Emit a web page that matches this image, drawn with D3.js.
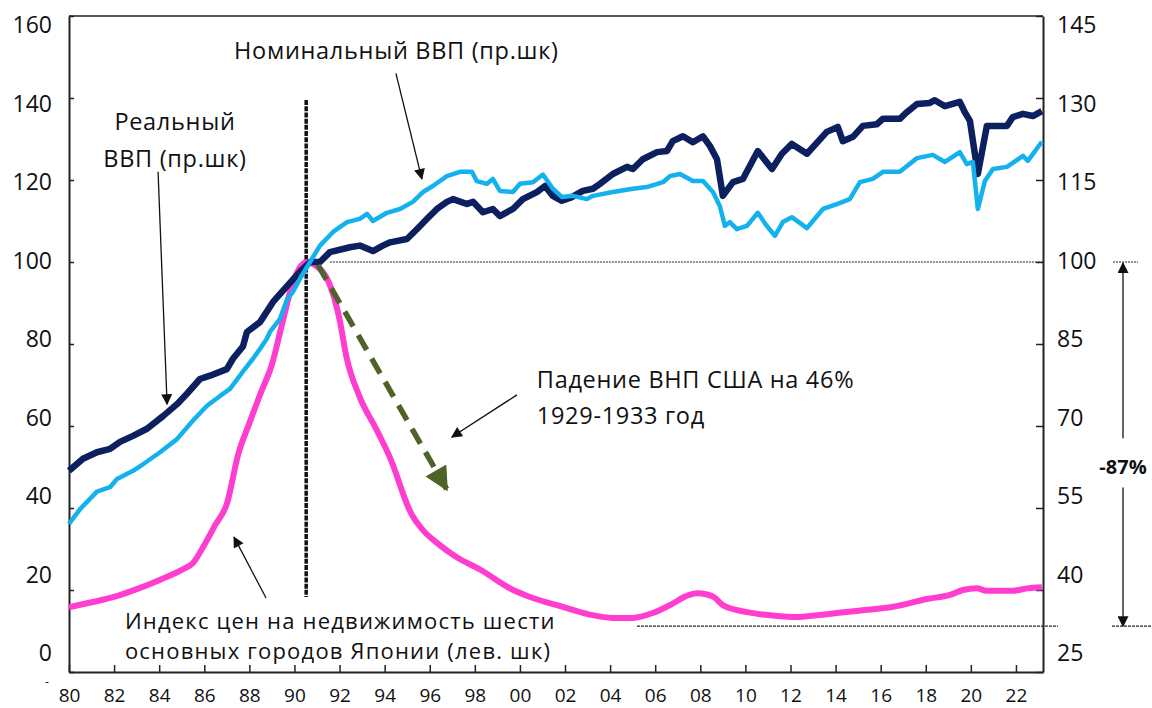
<!DOCTYPE html>
<meta charset="utf-8">
<head>
<script src="https://d3js.org/d3.v7.min.js"></script>
<style>
  body { margin: 0; background: #fff; }
  text { font-family: "Open Sans", sans-serif; fill: #111; }
</style>
</head>
<body>
<div id="my_dataviz"></div>
<script>

// ---- data ----
// property price index, six major cities of Japan (left axis)
var priceYears  = [1980.0, 1981.0, 1982.0, 1983.0, 1984.0, 1985.0, 1985.5, 1986.0, 1986.5, 1987.0, 1987.5, 1988.0, 1988.5, 1989.0, 1989.5, 1989.93, 1990.55, 1990.85, 1991.6, 1992.0, 1992.3, 1992.9, 1993.65, 1994.37, 1994.75, 1995.1, 1995.7, 1996.32, 1997.2, 1998.23, 1999.7, 2000.45, 2001.9, 2003.1, 2004.1, 2005.0, 2005.9, 2006.65, 2007.5, 2007.85, 2008.3, 2008.6, 2009.0, 2010.07, 2010.8, 2012.1, 2013.6, 2015.1, 2016.55, 2018.05, 2019.07, 2019.65, 2020.27, 2020.7, 2021.86, 2022.48, 2023.15];
var priceValues = [15.8, 17, 18.3, 20.2, 22.4, 24.9, 26.6, 31, 36, 41, 53, 60.7, 68, 75, 86, 95, 100, 99.5, 94, 86, 77, 67, 59, 50.5, 44.5, 39.5, 34.6, 31.5, 28, 25, 20, 18.3, 15.9, 14, 13.2, 13.2, 14.4, 16.3, 18.8, 19.2, 18.9, 18.3, 16.3, 14.6, 14, 13.4, 14.1, 15, 15.9, 17.8, 18.8, 20, 20.4, 19.8, 19.8, 20.4, 20.7];

// real GDP (right axis)
var realYears  = [1980.0, 1980.62, 1981.24, 1981.82, 1982.26, 1982.84, 1983.46, 1984.17, 1984.79, 1985.23, 1985.81, 1986.25, 1987.0, 1987.27, 1987.72, 1987.89, 1988.47, 1989.05, 1989.67, 1990.24, 1990.69, 1991.13, 1991.57, 1992.46, 1992.9, 1993.48, 1993.92, 1994.24, 1994.99, 1995.43, 1995.88, 1996.32, 1996.76, 1997.03, 1997.65, 1997.92, 1998.36, 1998.8, 1999.11, 1999.69, 2000.13, 2000.75, 2001.11, 2001.46, 2001.86, 2002.22, 2002.79, 2003.24, 2003.55, 2004.12, 2004.75, 2005.01, 2005.45, 2006.08, 2006.52, 2006.78, 2007.23, 2007.67, 2008.12, 2008.43, 2008.74, 2009.0, 2009.45, 2009.89, 2010.55, 2011.18, 2011.62, 2012.06, 2012.73, 2013.61, 2014.1, 2014.32, 2014.77, 2015.21, 2015.83, 2016.1, 2016.85, 2017.16, 2017.61, 2018.18, 2018.4, 2018.85, 2019.51, 2019.73, 2019.96, 2020.31, 2020.71, 2020.98, 2021.6, 2021.86, 2022.31, 2022.75, 2023.15];
var realValues = [61.8, 64, 65.2, 65.8, 67.1, 68.2, 69.5, 71.8, 74, 75.9, 78.6, 79.2, 80.4, 82.3, 84.6, 87.2, 89, 92.7, 95.6, 98.2, 100, 100, 101.8, 102.7, 103, 102, 103, 103.6, 104.2, 106, 107.9, 109.7, 111, 111.5, 110.6, 111, 109.1, 109.7, 108.4, 109.7, 111.5, 112.8, 113.9, 112.1, 111.2, 111.7, 113, 113.4, 114.3, 116.1, 117.4, 117, 118.8, 120.1, 120.3, 122.1, 123, 121.9, 123, 121.2, 118.8, 112.1, 114.6, 115.2, 120.3, 117, 119.8, 121.6, 119.8, 123.8, 124.7, 122.1, 122.9, 124.9, 125.2, 126.2, 126.2, 127.4, 128.9, 129.1, 129.6, 128.5, 129.3, 127.4, 125.8, 116.1, 124.9, 124.9, 124.9, 126.5, 127.1, 126.7, 127.6];

// nominal GDP (right axis)
var nominalYears  = [1980.0, 1980.49, 1981.24, 1981.82, 1982.13, 1982.84, 1983.28, 1984.04, 1984.79, 1985.5, 1986.12, 1986.7, 1987.14, 1987.72, 1988.16, 1988.47, 1988.78, 1988.91, 1989.36, 1989.67, 1989.93, 1990.24, 1990.69, 1991.13, 1991.71, 1992.33, 1992.9, 1993.22, 1993.48, 1994.1, 1994.68, 1995.25, 1995.7, 1996.14, 1996.76, 1997.34, 1997.87, 1998.09, 1998.54, 1998.8, 1999.11, 1999.69, 2000.0, 2000.58, 2001.02, 2001.46, 2001.86, 2002.35, 2002.97, 2003.24, 2004.12, 2005.01, 2005.63, 2006.34, 2006.65, 2007.1, 2007.67, 2008.12, 2008.56, 2008.87, 2009.09, 2009.31, 2009.62, 2010.07, 2010.55, 2010.95, 2011.31, 2011.66, 2012.06, 2012.73, 2013.44, 2014.06, 2014.63, 2015.08, 2015.65, 2016.1, 2016.85, 2017.61, 2018.31, 2018.85, 2019.51, 2019.82, 2020.09, 2020.31, 2020.62, 2020.98, 2021.6, 2022.31, 2022.53, 2023.15];
var nominalValues = [52.1, 54.8, 58, 58.8, 60.3, 61.8, 63, 65.2, 67.6, 71, 73.7, 75.5, 76.8, 80, 82.3, 84.1, 86, 87.2, 89.6, 93.2, 94.5, 96.9, 100, 103, 105.5, 107.3, 107.9, 108.8, 107.5, 109, 109.7, 111, 112.8, 113.9, 115.7, 116.5, 116.5, 114.8, 114.3, 115.2, 113, 112.8, 114.3, 114.6, 116, 113.4, 111.9, 112.1, 111.5, 112.1, 112.8, 113.4, 113.7, 114.6, 115.7, 116.1, 114.8, 114.8, 112.8, 110.2, 106.6, 107.3, 106, 106.6, 109, 106.6, 104.8, 107.3, 108.2, 106.2, 109.7, 110.6, 111.5, 114.6, 115.2, 116.5, 116.5, 119, 119.6, 118.3, 120.1, 117.9, 118.3, 109.7, 114.8, 117, 117.4, 119.4, 118.5, 122];

// ticks
var xTicks = d3.range(1980, 2023, 2);
var leftTicks = [0, 20, 40, 60, 80, 100, 120, 140, 160];
var rightTicks = [25, 40, 55, 70, 85, 100, 115, 130, 145];

// ---- layout ----
var margin = {top: 16, right: 109, bottom: 36, left: 69},
  width = 1152 - margin.left - margin.right,
  height = 708 - margin.top - margin.bottom;

var svg = d3.select("#my_dataviz")
  .append("svg")
    .attr("width", 1152)
    .attr("height", 708)
  .append("g")
    .attr("transform", "translate(" + margin.left + "," + margin.top + ")");

var x = d3.scaleLinear().domain([1980, 2023.2]).range([0, width]);
var yL = d3.scaleLinear().domain([0, 160]).range([height, 0]);
var yR = d3.scaleLinear().domain([25, 145]).range([height, 0]);
// in the original the axis numbers drift a little above their ticks
var yLab = d3.scaleLinear().domain([0, 8]).range([height - 19, 9]);

var defs = svg.append("defs");
function marker(id, color, w, h) {
  defs.append("marker")
    .attr("id", id)
    .attr("markerUnits", "userSpaceOnUse")
    .attr("viewBox", "0 0 10 10")
    .attr("refX", 9).attr("refY", 5)
    .attr("markerWidth", w).attr("markerHeight", h)
    .attr("orient", "auto")
    .append("path")
      .attr("d", "M0,0 L10,5 L0,10 Z")
      .attr("fill", color);
}
marker("arr", "#111", 15, 11);
marker("arrGreen", "#4f6228", 26, 24);

// ---- axes ----
var axisL = svg.append("g")
  .call(d3.axisLeft(yL).tickValues(leftTicks).tickSizeInner(-5).tickSizeOuter(0).tickFormat(""));
var axisR = svg.append("g")
  .attr("transform", "translate(" + width + ",0)")
  .call(d3.axisRight(yR).tickValues(rightTicks).tickSizeInner(-7).tickSizeOuter(0).tickFormat(""));
var axisB = svg.append("g")
  .attr("transform", "translate(0," + height + ")")
  .call(d3.axisBottom(x).tickValues(xTicks).tickSizeInner(-7).tickSizeOuter(0).tickPadding(17)
    .tickFormat(function(d){ return String(d % 100).padStart(2, "0"); }));
axisB.selectAll("text").attr("font-size", "19px").attr("font-family", "Open Sans").attr("fill", "#111");

[axisL, axisR, axisB].forEach(function(a){
  a.select(".domain").attr("stroke", "#222").attr("stroke-width", 2);
  a.selectAll(".tick line").attr("stroke", "#222").attr("stroke-width", 1.5);
});

// top border
svg.append("line")
  .attr("x1", 0).attr("x2", width).attr("y1", 0).attr("y2", 0)
  .attr("stroke", "#222").attr("stroke-width", 1.5);

// axis numbers
svg.selectAll("leftLab")
  .data(leftTicks)
  .enter()
  .append("text")
    .attr("x", -17)
    .attr("y", function(d, i){ return yLab(i); })
    .attr("dy", "0.35em")
    .attr("text-anchor", "end")
    .attr("font-size", "23px")
    .text(function(d){ return d; });

svg.append("text")
  .attr("x", -22).attr("y", height + 10)
  .attr("dy", "0.35em")
  .attr("text-anchor", "middle")
  .attr("font-size", "12px")
  .text("-");

svg.selectAll("rightLab")
  .data(rightTicks)
  .enter()
  .append("text")
    .attr("x", 14)
    .attr("transform", "translate(" + width + ",0)")
    .attr("y", function(d, i){ return yLab(i); })
    .attr("dy", "0.35em")
    .attr("font-size", "23px")
    .text(function(d){ return d; });

// ---- reference lines ----
// 100 level
svg.append("line")
  .attr("x1", x(1991.57)).attr("x2", width)
  .attr("y1", yR(100)).attr("y2", yR(100))
  .attr("stroke", "#222").attr("stroke-width", 1.2).attr("stroke-dasharray", "2,1");
svg.append("line")
  .attr("x1", width + 70).attr("x2", width + 95)
  .attr("y1", yR(100)).attr("y2", yR(100))
  .attr("stroke", "#222").attr("stroke-width", 1.2).attr("stroke-dasharray", "2,1");
// bottom of the fall
var lowLevel = 11.2;
svg.append("line")
  .attr("x1", x(2005.19)).attr("x2", width + 15)
  .attr("y1", yL(lowLevel)).attr("y2", yL(lowLevel))
  .attr("stroke", "#222").attr("stroke-width", 1.2).attr("stroke-dasharray", "3,1");
svg.append("line")
  .attr("x1", width + 69).attr("x2", width + 109)
  .attr("y1", yL(lowLevel)).attr("y2", yL(lowLevel))
  .attr("stroke", "#222").attr("stroke-width", 1.2).attr("stroke-dasharray", "3,1");

// bubble peak marker
svg.append("line")
  .attr("x1", x(1990.52)).attr("x2", x(1990.52))
  .attr("y1", yL(139.5)).attr("y2", yL(18.3))
  .attr("stroke", "#111").attr("stroke-width", 3.5).attr("stroke-dasharray", "5,1.2");

// ---- series ----
function pairs(xs, ys) { return xs.map(function(d, i){ return [d, ys[i]]; }); }

svg.append("path")
  .datum(pairs(priceYears, priceValues))
  .attr("fill", "none")
  .attr("stroke", "#ff3dcf")
  .attr("stroke-width", 6)
  .attr("stroke-linejoin", "round")
  .attr("d", d3.line().curve(d3.curveMonotoneX)
    .x(function(d){ return x(d[0]); })
    .y(function(d){ return yL(d[1]); }));

svg.append("path")
  .datum(pairs(realYears, realValues))
  .attr("fill", "none")
  .attr("stroke", "#0c1f5e")
  .attr("stroke-width", 6.5)
  .attr("stroke-linejoin", "round")
  .attr("d", d3.line()
    .x(function(d){ return x(d[0]); })
    .y(function(d){ return yR(d[1]); }));

svg.append("path")
  .datum(pairs(nominalYears, nominalValues))
  .attr("fill", "none")
  .attr("stroke", "#14b1ef")
  .attr("stroke-width", 4.5)
  .attr("stroke-linejoin", "round")
  .attr("d", d3.line()
    .x(function(d){ return x(d[0]); })
    .y(function(d){ return yR(d[1]); }));

// US GNP fall 1929-1933 (green dashed arrow)
svg.append("line")
  .attr("x1", x(1991.04)).attr("y1", yL(99.3))
  .attr("x2", x(1996.75)).attr("y2", yL(44.6))
  .attr("stroke", "#4f6228").attr("stroke-width", 5.5)
  .attr("stroke-dasharray", "17,10")
  .attr("marker-end", "url(#arrGreen)");

// ---- annotations ----
function arrow(x1, y1, x2, y2) {
  svg.append("line")
    .attr("x1", x1).attr("y1", y1).attr("x2", x2).attr("y2", y2)
    .attr("stroke", "#111").attr("stroke-width", 1.3)
    .attr("marker-end", "url(#arr)");
}
function note(xv, yv, anchor, str, size, spacing) {
  svg.append("text")
    .attr("x", xv).attr("y", yv)
    .attr("dy", "0.35em").attr("text-anchor", anchor)
    .attr("font-size", (size || 23.5) + "px").attr("letter-spacing", (spacing || 0.7) + "px")
    .text(str);
}

note(x(1994.52), yR(138.6), "middle", "Номинальный ВВП (пр.шк)");
arrow(x(1994.5), yR(134.5), x(1995.65), yR(115.2));

note(x(1984.7), yR(125.6), "middle", "Реальный");
note(x(1984.7), yR(118.8), "middle", "ВВП (пр.шк)");
arrow(x(1983.95), yR(116.5), x(1984.35), yR(74));

note(x(2000.75), yL(71.2), "start", "Падение ВНП США на 46%");
note(x(2000.75), yL(62.4), "start", "1929-1933 год");
arrow(x(1999.87), yL(67.6), x(1996.98), yL(57.3));

note(x(1982.48), yL(12.4), "start", "Индекс цен на недвижимость шести", 22, 1.2);
note(x(1982.48), yL(5.0), "start", "основных городов Японии (лев. шк)", 22, 1.2);
arrow(x(1988.74), yL(18.05), x(1987.32), yL(32.9));

// -87% fall arrow, outside the plot
arrow(width + 80, yL(57), width + 80, yR(100) + 1);
arrow(width + 80, yL(45), width + 80, yL(lowLevel));
svg.append("text")
  .attr("x", width + 80).attr("y", yL(50))
  .attr("dy", "0.35em").attr("text-anchor", "middle")
  .attr("font-size", "20px").attr("font-weight", "bold")
  .text("-87%");

</script>
</body>
